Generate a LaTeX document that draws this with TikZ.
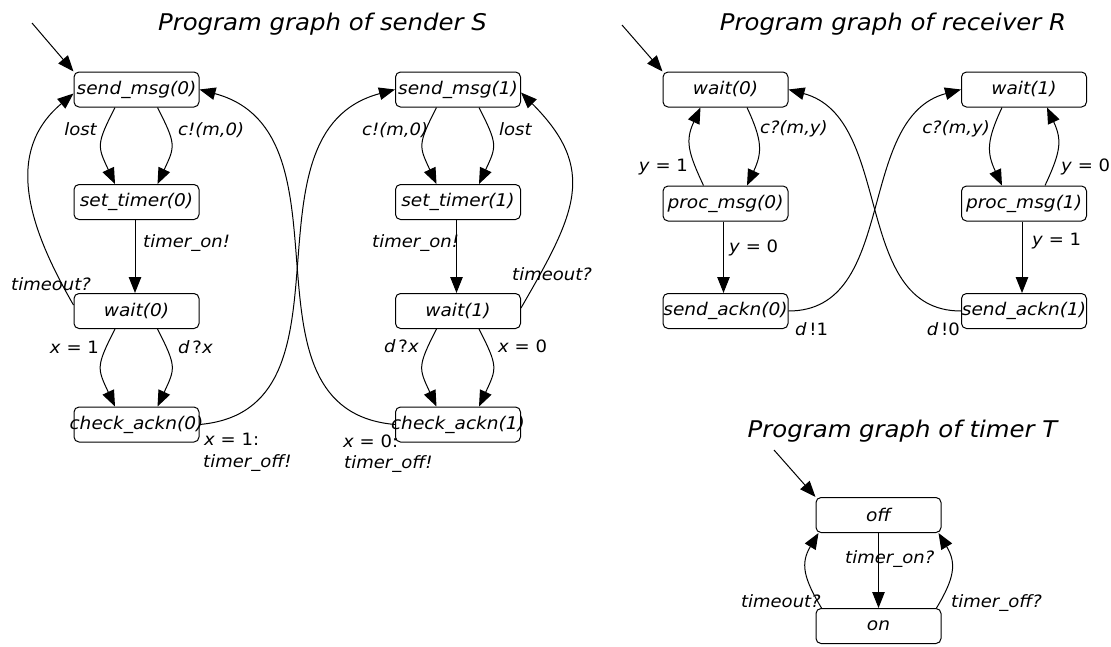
\documentclass[tikz,border=0pt]{standalone}
\usepackage{fontspec}
\setmainfont[FakeStretch=1.06]{DejaVu Sans}
\usetikzlibrary{arrows.meta}
\newcommand\ctr[1]{\makebox[0pt]{#1}}
\newcommand\up[1]{\textup{#1}}
\begin{document}
\begin{tikzpicture}[x=1pt,y=-1pt,
  state/.style={draw, rounded corners=5pt, minimum width=125pt, minimum height=35pt, inner sep=0pt, line width=1pt, font=\fontsize{17.5}{20}\selectfont\itshape},
  lbl/.style={inner sep=0pt, font=\fontsize{17}{20}\selectfont\itshape},
  ttl/.style={inner sep=0pt, anchor=base, font=\fontsize{23}{27}\selectfont\itshape},
  arr/.style={draw, line width=1pt, -{Triangle[length=16pt,width=12.5pt]}},
]
\useasboundingbox (0,0) rectangle (1111,646);

% titles
\node[ttl] (tS) at (322.5,30) {Program graph of sender S};
\node[ttl] (tR) at (893,30) {Program graph of receiver R};
\node[ttl] (tT) at (902.5,437) {Program graph of timer T};

% sender
\node[state] (s0) at (136.5,89.5) {\ctr{send\_msg(0)}};
\node[state] (t0) at (136.5,202) {\ctr{set\_timer(0)}};
\node[state] (w0) at (136.5,311) {\ctr{wait(0)}};
\node[state] (c0) at (136.5,424.5) {\ctr{check\_ackn(0)}};
\node[state] (s1) at (458,89.5) {\ctr{send\_msg(1)}};
\node[state] (t1) at (458,202) {\ctr{set\_timer(1)}};
\node[state] (w1) at (458,311) {\ctr{wait(1)}};
\node[state] (c1) at (458,424.5) {\ctr{check\_ackn(1)}};

% receiver
\node[state] (rw0) at (725.5,89.5) {\ctr{wait(0)}};
\node[state] (rp0) at (725.5,203.5) {\ctr{proc\_msg(0)}};
\node[state] (ra0) at (725.5,311) {\ctr{send\_ackn(0)}};
\node[state] (rw1) at (1024,89.5) {\ctr{wait(1)}};
\node[state] (rp1) at (1024,203.5) {\ctr{proc\_msg(1)}};
\node[state] (ra1) at (1024,311) {\ctr{send\_ackn(1)}};

% timer
\node[state] (off) at (878.5,515) {\ctr{off}};
\node[state] (on) at (878.5,626) {\ctr{on}};

% initial arrows
\coordinate (iS) at (32,23);
\coordinate (iR) at (622,25);
\coordinate (iT) at (774,450);
\draw[arr] (iS) -- (s0.north west);
\draw[arr] (iR) -- (rw0.north west);
\draw[arr] (iT) -- (off.north west);

% sender left column
\draw[arr] ([xshift=-21.5pt]s0.south) to[out=-117,in=115,looseness=1.4] ([xshift=-21.5pt]t0.north);
\draw[arr] ([xshift=21pt]s0.south) to[out=-63,in=65,looseness=1.4] ([xshift=21pt]t0.north);
\draw[arr] ([xshift=-1.5pt]t0.south) -- ([xshift=-1.5pt]w0.north);
\draw[arr] ([xshift=-21.5pt]w0.south) to[out=-117,in=115,looseness=1.4] ([xshift=-21.5pt]c0.north);
\draw[arr] ([xshift=21pt]w0.south) to[out=-63,in=65,looseness=1.4] ([xshift=21pt]c0.north);
\draw[arr] ([yshift=6pt]w0.west) to[out=120,in=-140,looseness=1.1] ([yshift=-4pt]s0.west);

% sender right column
\draw[arr] ([xshift=-21.5pt]s1.south) to[out=-117,in=115,looseness=1.4] ([xshift=-21.5pt]t1.north);
\draw[arr] ([xshift=21pt]s1.south) to[out=-63,in=65,looseness=1.4] ([xshift=21pt]t1.north);
\draw[arr] ([xshift=-1.5pt]t1.south) -- ([xshift=-1.5pt]w1.north);
\draw[arr] ([xshift=-21.5pt]w1.south) to[out=-117,in=115,looseness=1.4] ([xshift=-21.5pt]c1.north);
\draw[arr] ([xshift=21pt]w1.south) to[out=-63,in=65,looseness=1.4] ([xshift=21pt]c1.north);
\draw[arr] ([yshift=3pt]w1.east) to[out=60,in=-45,looseness=1.3] ([yshift=-3pt]s1.east);

% sender cross edges
\draw[arr] (c0.east) to[out=5,in=-165,looseness=1.1] (s1.west);
\draw[arr] (c1.west) to[out=175,in=-15,looseness=1.1] (s0.east);

% sender labels
\node[lbl, anchor=base east] (l1) at (97,135) {lost};
\node[lbl, anchor=base west] (l2) at (178,135) {c!(m,0)};
\node[lbl, anchor=base west] (l3) at (143,247) {timer\_on!};
\node[lbl, anchor=base west] (l4) at (11,290) {timeout?};
\node[lbl, anchor=base east] (l5) at (99,353) {x \up{= 1}};
\node[lbl, anchor=base west] (l6) at (178,353) {d\,\up{?}x};
\node[lbl, anchor=base west] (l7) at (204,445) {x \up{= 1:}};
\node[lbl, anchor=base west] (l8) at (203,467) {timer\_off!};
\node[lbl, anchor=base west] (m1) at (362,135) {c!(m,0)};
\node[lbl, anchor=base west] (m2) at (499,135) {lost};
\node[lbl, anchor=base west] (m3) at (372,247) {timer\_on!};
\node[lbl, anchor=base west] (m4) at (512,280) {timeout?};
\node[lbl, anchor=base west] (m5) at (384,352) {d\,\up{?}x};
\node[lbl, anchor=base west] (m6) at (498,352) {x \up{= 0}};
\node[lbl, anchor=base west] (m7) at (343,447) {x \up{= 0:}};
\node[lbl, anchor=base west] (m8) at (344,468) {timer\_off!};

% receiver edges
\draw[arr] ([xshift=21.5pt]rw0.south) to[out=-65,in=65,looseness=1.2] ([xshift=21.5pt]rp0.north);
\draw[arr] ([xshift=-22pt]rp0.north) to[out=115,in=-115,looseness=1.2] ([xshift=-25pt]rw0.south);
\draw[arr] ([xshift=-2pt]rp0.south) -- ([xshift=-2pt]ra0.north);
\draw[arr] ([xshift=-22pt]rw1.south) to[out=-115,in=115,looseness=1.2] ([xshift=-22pt]rp1.north);
\draw[arr] ([xshift=21pt]rp1.north) to[out=65,in=-65,looseness=1.2] ([xshift=23pt]rw1.south);
\draw[arr] ([xshift=-2pt]rp1.south) -- ([xshift=-2pt]ra1.north);
\draw[arr] (ra0.east) to[out=0,in=-165] (rw1.west);
\draw[arr] (ra1.west) to[out=180,in=-15] (rw0.east);

% receiver labels
\node[lbl, anchor=base west] (r1) at (760,133) {c?(m,y)};
\node[lbl, anchor=base east] (r2) at (688,171) {y \up{= 1}};
\node[lbl, anchor=base west] (r3) at (729,252) {y \up{= 0}};
\node[lbl, anchor=base west] (r4) at (795,335) {d\,\up{!1}};
\node[lbl, anchor=base east] (r5) at (960,335) {d\,\up{!0}};
\node[lbl, anchor=base east] (r6) at (990,133) {c?(m,y)};
\node[lbl, anchor=base west] (r7) at (1061,171) {y \up{= 0}};
\node[lbl, anchor=base west] (r8) at (1032,245) {y \up{= 1}};

% timer edges
\draw[arr] (off.south) -- (on.north);
\draw[arr] ([xshift=-57pt]on.north) to[out=121,in=-121,looseness=1.2] ([xshift=-60pt]off.south);
\draw[arr] ([xshift=58pt]on.north) to[out=59,in=-59,looseness=1.2] ([xshift=60pt]off.south);

% timer labels
\node[lbl, anchor=base west] (q1) at (845,563) {timer\_on?};
\node[lbl, anchor=base east] (q2) at (821,607) {timeout?};
\node[lbl, anchor=base west] (q3) at (951,607) {timer\_off?};
\end{tikzpicture}
\end{document}
